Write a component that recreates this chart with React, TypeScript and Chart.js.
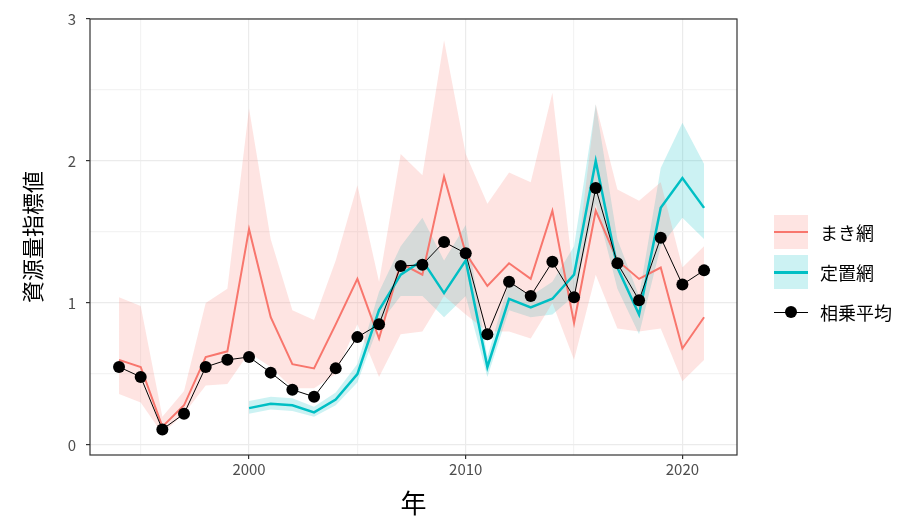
import { useEffect, useRef } from "react"
import { Chart, registerables } from "chart.js"

Chart.register(...registerables)

const years = [1994, 1995, 1996, 1997, 1998, 1999, 2000, 2001, 2002, 2003, 2004, 2005, 2006, 2007, 2008, 2009, 2010, 2011, 2012, 2013, 2014, 2015, 2016, 2017, 2018, 2019, 2020, 2021]
const makiMid = [0.6, 0.55, 0.13, 0.28, 0.62, 0.66, 1.52, 0.9, 0.57, 0.54, 0.85, 1.17, 0.75, 1.28, 1.2, 1.89, 1.35, 1.12, 1.28, 1.17, 1.65, 0.86, 1.65, 1.3, 1.17, 1.25, 0.68, 0.9]
const makiLo = [0.36, 0.3, 0.08, 0.22, 0.42, 0.43, 0.65, 0.55, 0.4, 0.4, 0.5, 0.85, 0.48, 0.78, 0.8, 1.05, 0.92, 0.8, 0.8, 0.75, 1.0, 0.6, 1.2, 0.82, 0.8, 0.82, 0.45, 0.6]
const makiHi = [1.04, 0.98, 0.2, 0.38, 1.0, 1.1, 2.37, 1.45, 0.95, 0.88, 1.3, 1.83, 1.15, 2.05, 1.9, 2.85, 2.05, 1.7, 1.92, 1.85, 2.48, 1.15, 2.4, 1.8, 1.72, 1.85, 1.25, 1.4]
const teichiYears = years.slice(6)
const teichiMid = [0.26, 0.29, 0.28, 0.23, 0.32, 0.5, 0.95, 1.2, 1.3, 1.07, 1.3, 0.55, 1.03, 0.97, 1.03, 1.2, 2.0, 1.25, 0.92, 1.67, 1.88, 1.67]
const teichiLo = [0.22, 0.25, 0.24, 0.2, 0.28, 0.44, 0.85, 1.05, 1.05, 0.9, 1.05, 0.48, 0.95, 0.9, 0.92, 1.05, 1.7, 1.1, 0.78, 1.4, 1.6, 1.45]
const teichiHi = [0.31, 0.34, 0.33, 0.27, 0.37, 0.57, 1.08, 1.4, 1.6, 1.3, 1.55, 0.62, 1.15, 1.05, 1.15, 1.4, 2.4, 1.45, 1.05, 1.95, 2.27, 1.98]
const geoMean = [0.55, 0.48, 0.11, 0.22, 0.55, 0.6, 0.62, 0.51, 0.39, 0.34, 0.54, 0.76, 0.85, 1.26, 1.27, 1.43, 1.35, 0.78, 1.15, 1.05, 1.29, 1.04, 1.81, 1.28, 1.02, 1.46, 1.13, 1.23]
const labels = ["まき網", "定置網", "相乗平均"]

const RED = "#F8766D"
const CYAN = "#00BFC4"
const RED_FILL = "rgba(248,118,109,0.2)"
const CYAN_FILL = "rgba(0,191,196,0.2)"
const FONT = "'Noto Sans CJK JP', 'Noto Sans', sans-serif"

const pts = (xs: number[], ys: number[]) => xs.map((x, i) => ({ x, y: ys[i] }))

const border = {
  id: "border",
  afterDraw(c: Chart) {
    const { ctx, chartArea: a } = c
    ctx.save()
    ctx.strokeStyle = "#333333"
    ctx.lineWidth = 1.2
    ctx.strokeRect(a.left, a.top, a.right - a.left, a.bottom - a.top)
    ctx.restore()
  },
}

export default function App() {
  const ref = useRef<HTMLCanvasElement>(null)

  useEffect(() => {
    if (!ref.current) return
    const band = (d: { x: number; y: number }[], fill: any, bg: string) => ({
      data: d, borderWidth: 0, pointRadius: 0, fill, backgroundColor: bg, borderColor: "transparent", order: 3,
    })
    const chart = new Chart(ref.current, {
      type: "line",
      data: {
        datasets: [
          band(pts(years, makiLo), false, RED_FILL),
          band(pts(years, makiHi), "-1", RED_FILL),
          band(pts(teichiYears, teichiLo), false, CYAN_FILL),
          band(pts(teichiYears, teichiHi), "-1", CYAN_FILL),
          { data: pts(years, makiMid), borderColor: RED, borderWidth: 2, pointRadius: 0, fill: false, order: 2 },
          { data: pts(teichiYears, teichiMid), borderColor: CYAN, borderWidth: 2.5, pointRadius: 0, fill: false, order: 1 },
          { data: pts(years, geoMean), borderColor: "#000", borderWidth: 1, pointRadius: 6, pointBackgroundColor: "#000", pointBorderWidth: 0, fill: false, order: 0 },
        ] as any,
      },
      options: {
        animation: false,
        responsive: true,
        maintainAspectRatio: false,
        layout: { padding: { left: 0, right: 182, top: 17, bottom: 0 } },
        plugins: { legend: { display: false }, tooltip: { enabled: false } },
        scales: {
          x: {
            type: "linear", min: 1992.66, max: 2022.52,
            border: { display: false },
            afterFit: (s: any) => { s.height = 68 },
            grid: { color: (c: any) => (c.tick.value % 10 === 0 ? "#ebebeb" : "#f3f3f3"), lineWidth: 1.2, tickLength: 4, tickColor: (c: any) => (c.tick.value % 10 === 0 ? "#333" : "transparent") },
            afterBuildTicks: (s: any) => { s.ticks = [1995, 2000, 2005, 2010, 2015, 2020].map((v) => ({ value: v })) },
            ticks: { autoSkip: false, maxRotation: 0, padding: 1, color: "#4d4d4d", font: { size: 15, family: FONT }, callback: (v: any) => (v % 10 === 0 ? String(v) : "") },
            title: { display: true, text: "年", color: "#000", font: { size: 26, family: FONT }, padding: { top: 0, bottom: 4 } },
          },
          y: {
            min: -0.07, max: 3,
            border: { display: false },
            afterFit: (s: any) => { s.width = 90 },
            grid: { color: (c: any) => (c.tick.value % 1 === 0 ? "#ebebeb" : "#f3f3f3"), lineWidth: 1.2, tickLength: 4, tickColor: (c: any) => (c.tick.value % 1 === 0 ? "#333" : "transparent") },
            afterBuildTicks: (s: any) => { s.ticks = [0, 0.5, 1, 1.5, 2, 2.5, 3].map((v) => ({ value: v })) },
            ticks: { autoSkip: false, padding: 10, color: "#4d4d4d", font: { size: 15, family: FONT }, callback: (v: any) => (v % 1 === 0 ? String(v) : "") },
            title: { display: true, text: "資源量指標値", color: "#000", font: { size: 22, family: FONT }, padding: { top: 19, bottom: 0 } },
          },
        },
      },
      plugins: [border],
    })
    return () => chart.destroy()
  }, [])

  const item = (i: number) => {
    const sw =
      i === 0 ? (
        <div style={{ width: 34, height: 34, background: RED_FILL, position: "relative" }}>
          <div style={{ position: "absolute", left: 0, right: 0, top: 16, height: 2, background: RED }} />
        </div>
      ) : i === 1 ? (
        <div style={{ width: 34, height: 34, background: CYAN_FILL, position: "relative" }}>
          <div style={{ position: "absolute", left: 0, right: 0, top: 16, height: 2.5, background: CYAN }} />
        </div>
      ) : (
        <div style={{ width: 34, height: 34, position: "relative" }}>
          <div style={{ position: "absolute", left: 0, right: 0, top: 16.5, height: 1, background: "#000" }} />
          <div style={{ position: "absolute", left: 11, top: 11, width: 12, height: 12, borderRadius: 6, background: "#000" }} />
        </div>
      )
    return (
      <div key={i} style={{ display: "flex", alignItems: "center", height: 40 }}>
        {sw}
        <span style={{ marginLeft: 12, fontSize: 18, fontFamily: FONT, color: "#000" }}>{labels[i]}</span>
      </div>
    )
  }

  return (
    <div style={{ position: "fixed", left: 0, top: 0, width: 919, height: 523, background: "#fff" }}>
      <canvas ref={ref} />
      <div style={{ position: "absolute", left: 774, top: 212 }}>{[0, 1, 2].map(item)}</div>
    </div>
  )
}
